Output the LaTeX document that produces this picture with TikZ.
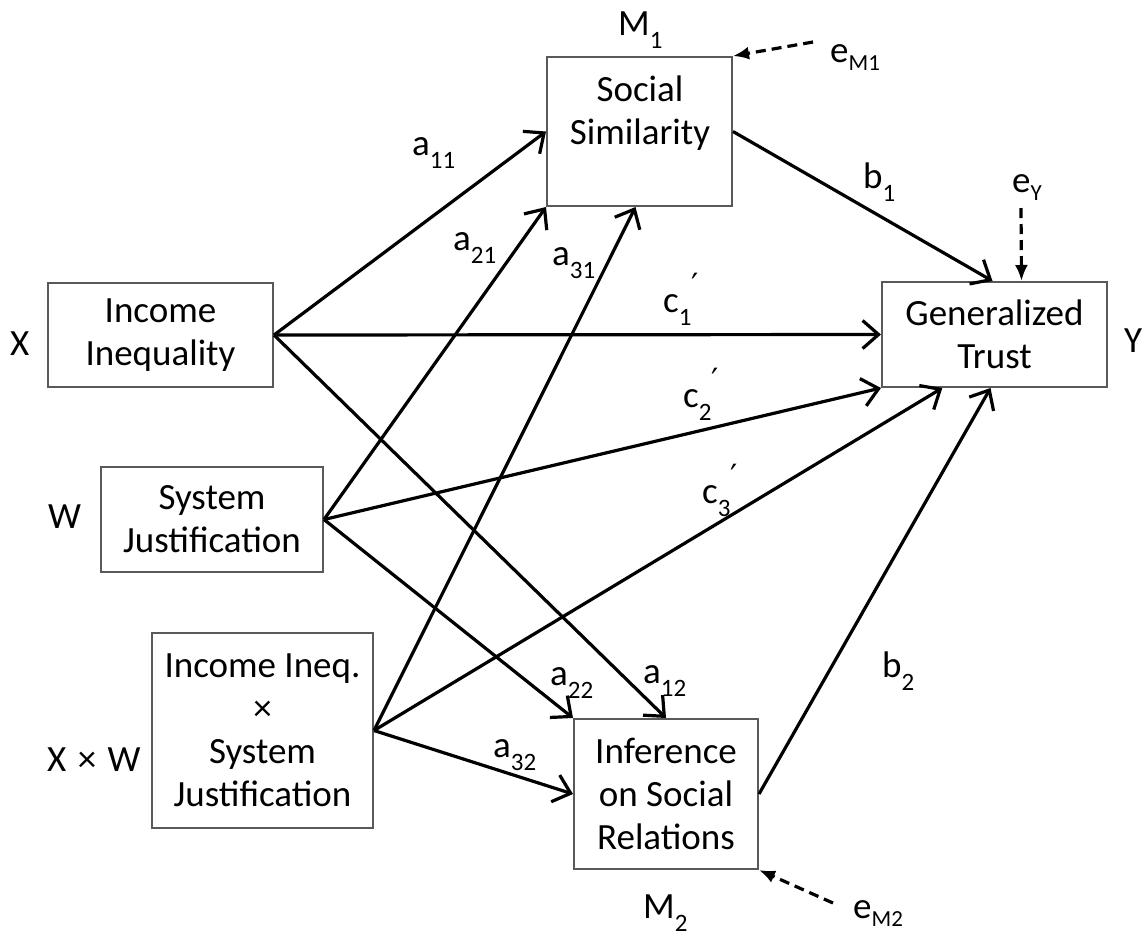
\documentclass[tikz,border=0pt]{standalone}
\usepackage{fontspec}
\setmainfont{Carlito}
\newfontfamily\symf{DejaVu Sans}
\usetikzlibrary{arrows.meta,calc}

% lowered index, error-term index and prime mark
\newcommand\lowsub[1]{\raisebox{-0.36em}{\fontsize{25}{25}\selectfont #1}}
\newcommand\errsub[1]{\raisebox{-0.22em}{\fontsize{23}{23}\selectfont #1}}
\newcommand\primemark{\raisebox{0.42em}{\fontsize{32}{32}\symf\char"2032}}

\tikzset{
  varbox/.style={draw=black!65, line width=2pt, inner sep=0pt, align=center,
                 font=\fontsize{37}{43}\selectfont},
  boxtext/.style={inner sep=0pt, align=center, font=\fontsize{37}{43}\selectfont},
  lbl/.style={inner sep=0pt, anchor=base west, font=\fontsize{37}{43}\selectfont},
  link/.style={line width=3.2pt, -{Straight Barb[length=16pt,width=28pt]}},
  errlink/.style={line width=3.2pt, dash pattern=on 10pt off 6pt,
                  -{Latex[length=16pt,width=13pt]}}
}

\begin{document}
\begin{tikzpicture}[x=1pt,y=-1pt]
\useasboundingbox (0,0) rectangle (1147,938);

% variable boxes
\node[varbox, minimum width=185pt, minimum height=149pt] (ss) at (639.5,131.5) {};
\node[boxtext] (ssText) at (640,113) {Social\\Similarity};
\node[varbox, minimum width=225pt, minimum height=105pt] (gt) at (994.5,334.5) {Generalized\\Trust};
\node[varbox, minimum width=225pt, minimum height=104pt] (ii) at (160.5,335) {Income\\Inequality};
\node[varbox, minimum width=222pt, minimum height=105pt] (sj) at (212,519.5) {System\\Justification};
\node[varbox, minimum width=221pt, minimum height=195pt] (xw) at (262.5,730.5) {Income Ineq.\\×\\System\\Justification};
\node[varbox, minimum width=184pt, minimum height=150pt] (inf) at (666,794) {Inference\\on Social\\Relations};

% variable letters
\node[lbl] (lM1) at (618,35) {M\lowsub{1}};
\node[lbl] (lM2) at (643,918) {M\lowsub{2}};
\node[lbl] (lX) at (10,355) {X};
\node[lbl] (lW) at (48,528) {W};
\node[lbl] (lXW) at (47,771) {X \hspace{3pt}× \hspace{3pt}W};
\node[lbl] (lY) at (1124,352) {Y};

% error terms
\node[lbl] (eM1) at (830,62) {e\errsub{M1}};
\node[lbl] (eY) at (1012,192) {e\errsub{Y}};
\node[lbl] (eM2) at (853,918) {e\errsub{M2}};
\coordinate (eM1from) at (813,42);
\coordinate (eYfrom) at (1021,208);
\coordinate (eM2from) at (833,903);

% paths
\draw[link] (ii.east) -- (ss.west);
\draw[link] (ii.east) -- (gt.west);
\draw[link] (ii.east) -- (inf.north);
\draw[link] (sj.east) -- (ss.south west);
\draw[link] (sj.east) -- (gt.south west);
\draw[link] (sj.east) -- (inf.north west);
\draw[link] (xw.east) -- ($(ss.south)+(-4,0)$);
\draw[link] (xw.east) -- ($(gt.south west)!0.27!(gt.south east)$);
\draw[link] (xw.east) -- (inf.west);
\draw[link] (ss.east) -- ($(gt.north)+(-2,0)$);
\draw[link] (inf.east) -- ($(gt.south)+(-4,0)$);

\draw[errlink] (eM1from) -- (ss.north east);
\draw[errlink] (eYfrom) -- ($(gt.north)+(27,0)$);
\draw[errlink] (eM2from) -- (inf.south east);

% path coefficients
\node[lbl] (la11) at (412,155) {a\lowsub{11}};
\node[lbl] (la21) at (453,250) {a\lowsub{21}};
\node[lbl] (la31) at (552,265) {a\lowsub{31}};
\node[lbl] (la22) at (550,685) {a\lowsub{22}};
\node[lbl] (la12) at (643,683) {a\lowsub{12}};
\node[lbl] (la32) at (493,757) {a\lowsub{32}};
\node[lbl] (lb1) at (863,188) {b\lowsub{1}};
\node[lbl] (lb2) at (882,677) {b\lowsub{2}};
\node[lbl] (lc1) at (663,312) {c\lowsub{1}\primemark};
\node[lbl] (lc2) at (683,407) {c\lowsub{2}\primemark};
\node[lbl] (lc3) at (702,503) {c\lowsub{3}\primemark};
\end{tikzpicture}
\end{document}
